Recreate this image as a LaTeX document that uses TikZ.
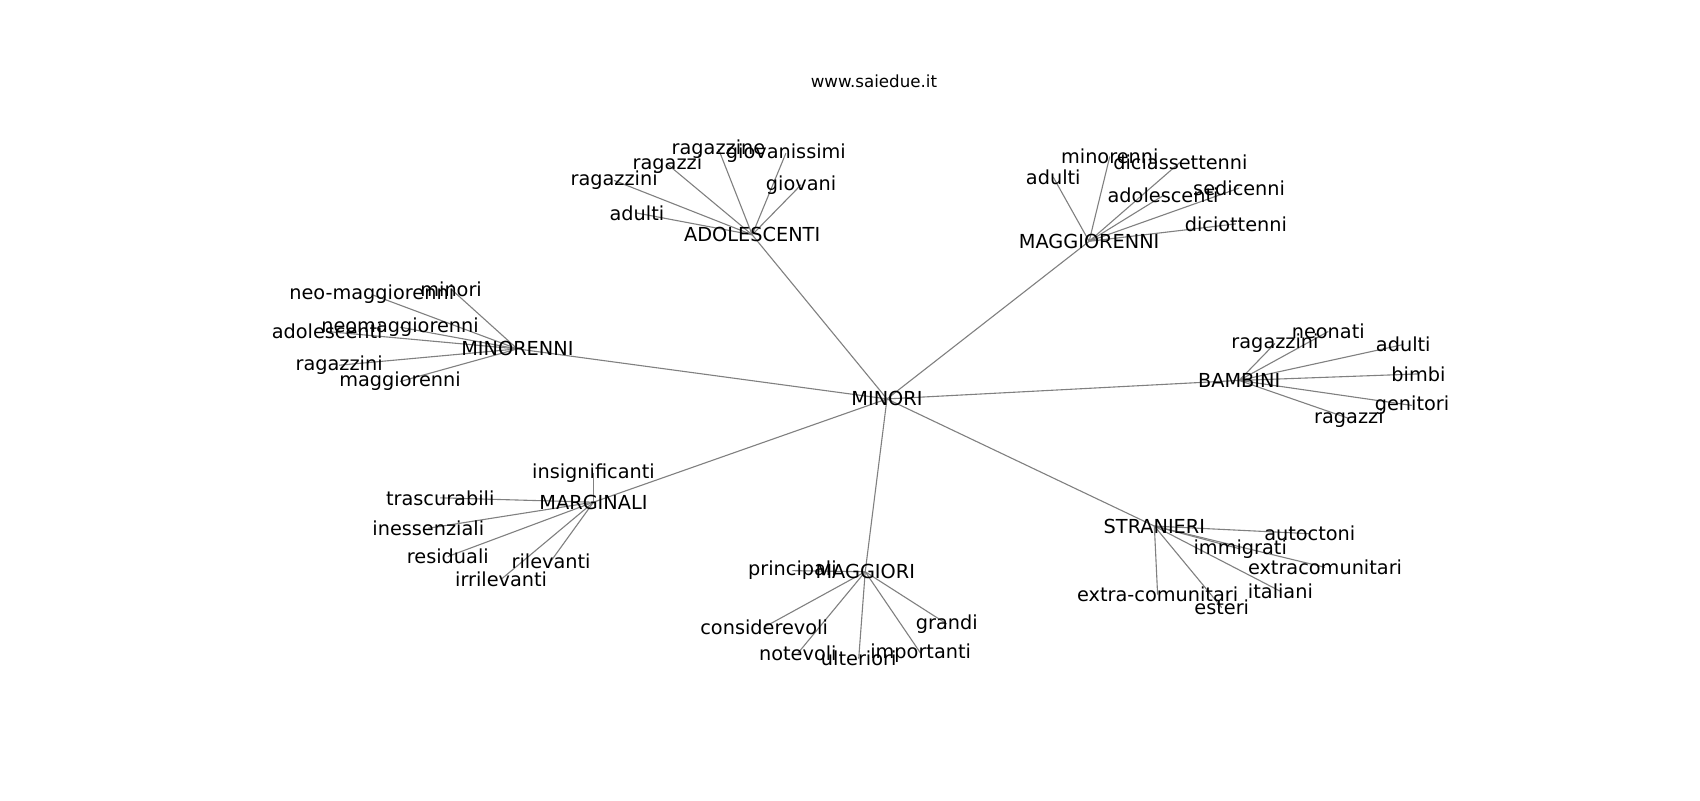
\documentclass[tikz,border=0pt]{standalone}
\usepackage{fontspec}
\setmainfont{DejaVu Sans}
\usetikzlibrary{backgrounds}
\begin{document}
\begin{tikzpicture}[x=1.087pt,y=-1.087pt,
  lbl/.style={inner sep=0pt,font=\fontsize{19.3}{23}\selectfont,text=black},
  ttl/.style={inner sep=0pt,font=\fontsize{16.67}{20}\selectfont,text=black},
  edge/.style={draw=gray,line width=1.1pt}]
\useasboundingbox (0,0) rectangle (1564,736);
\node[ttl] (title) at (804,75) {www.saiedue.it};
% hubs
\node[lbl] (MI) at (816,367) {MINORI};
\node[lbl] (AD) at (692,216) {ADOLESCENTI};
\node[lbl] (MG) at (1002,222) {MAGGIORENNI};
\node[lbl] (MN) at (476,321) {MINORENNI};
\node[lbl] (BA) at (1140,350) {BAMBINI};
\node[lbl] (MR) at (546,462) {MARGINALI};
\node[lbl] (MA) at (796,526) {MAGGIORI};
\node[lbl] (ST) at (1062,484) {STRANIERI};
% ADOLESCENTI
\node[lbl] (a1) at (661,137) {ragazzine};
\node[lbl] (a2) at (723,141) {giovanissimi};
\node[lbl] (a3) at (614,151) {ragazzi};
\node[lbl] (a4) at (565,166) {ragazzini};
\node[lbl] (a5) at (737,170) {giovani};
\node[lbl] (a6) at (586,196) {adulti};
% MAGGIORENNI
\node[lbl] (g1) at (1021,144) {minorenni};
\node[lbl] (g2) at (1086,149) {diciassettenni};
\node[lbl] (g3) at (969,163) {adulti};
\node[lbl] (g4) at (1070,180) {adolescenti};
\node[lbl] (g5) at (1140,173) {sedicenni};
\node[lbl] (g6) at (1137,206) {diciottenni};
% MINORENNI
\node[lbl] (n1) at (415,266) {minori};
\node[lbl] (n2) at (342,271) {neo-maggiorenni};
\node[lbl] (n3) at (368,301) {neomaggiorenni};
\node[lbl] (n4) at (301,305) {adolescenti};
\node[lbl] (n5) at (312,336) {ragazzini};
\node[lbl] (n6) at (368,351) {maggiorenni};
% BAMBINI
\node[lbl] (b1) at (1222,305) {neonati};
\node[lbl] (b2) at (1173,316) {ragazzini};
\node[lbl] (b3) at (1291,317) {adulti};
\node[lbl] (b4) at (1305,344) {bimbi};
\node[lbl] (b5) at (1299,373) {genitori};
\node[lbl] (b6) at (1241,385) {ragazzi};
% MARGINALI
\node[lbl] (r1) at (546,435) {insignificanti};
\node[lbl] (r2) at (405,458) {trascurabili};
\node[lbl] (r3) at (394,486) {inessenziali};
\node[lbl] (r4) at (412,512) {residuali};
\node[lbl] (r5) at (507,516) {rilevanti};
\node[lbl] (r6) at (461,533) {irrilevanti};
% MAGGIORI
\node[lbl] (m1) at (729,525) {principali};
\node[lbl] (m2) at (703,577) {considerevoli};
\node[lbl] (m3) at (871,574) {grandi};
\node[lbl] (m4) at (734,601) {notevoli};
\node[lbl] (m5) at (790,606) {ulteriori};
\node[lbl] (m6) at (847,601) {importanti};
% STRANIERI
\node[lbl] (s1) at (1205,491) {autoctoni};
\node[lbl] (s2) at (1141,505) {immigrati};
\node[lbl] (s3) at (1219,522) {extracomunitari};
\node[lbl] (s4) at (1065,547) {extra-comunitari};
\node[lbl] (s5) at (1178,544) {italiani};
\node[lbl] (s6) at (1124,559) {esteri};
\begin{scope}[on background layer]
\fill[white] (0,0) rectangle (1564,736);
\foreach \h in {AD,MG,MN,BA,MR,MA,ST} {\draw[edge] (MI.center) -- (\h.center);}
\foreach \i in {1,...,6} {
  \draw[edge] (AD.center) -- (a\i.center);
  \draw[edge] (MG.center) -- (g\i.center);
  \draw[edge] (MN.center) -- (n\i.center);
  \draw[edge] (BA.center) -- (b\i.center);
  \draw[edge] (MR.center) -- (r\i.center);
  \draw[edge] (MA.center) -- (m\i.center);
  \draw[edge] (ST.center) -- (s\i.center);
}
\end{scope}
\end{tikzpicture}
\end{document}
